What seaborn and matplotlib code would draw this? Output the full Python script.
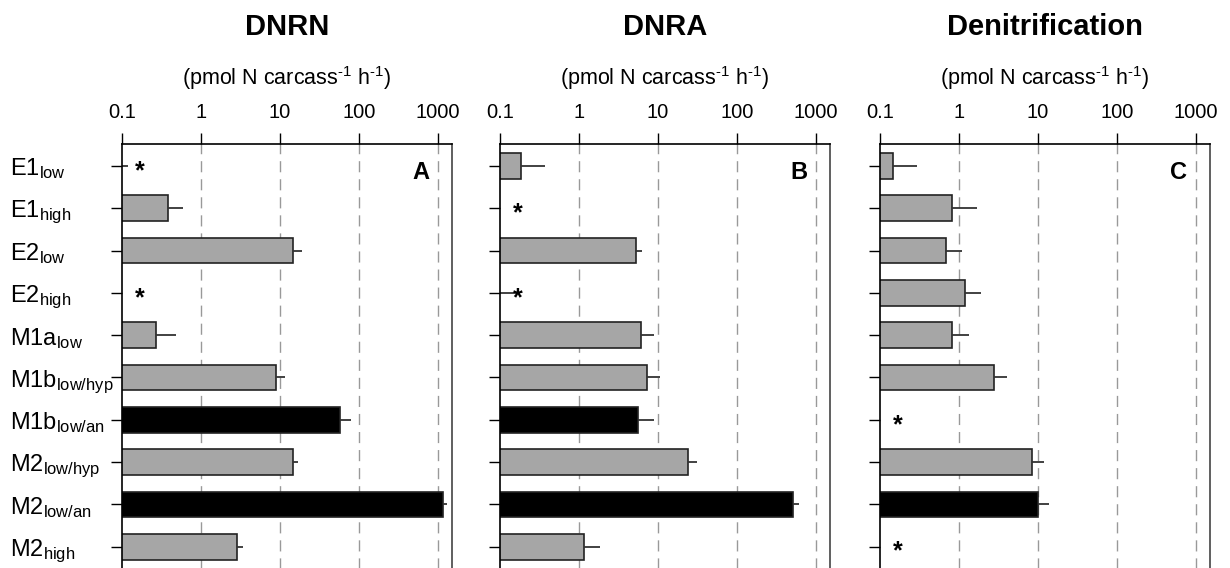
import numpy as np
import pandas as pd
import matplotlib
matplotlib.use("Agg")
import matplotlib.pyplot as plt
import seaborn as sns

# row labels (top to bottom)
sites = ["E1_low", "E1_high", "E2_low", "E2_high", "M1a_low", "M1b_low/hyp",
         "M1b_low/an", "M2_low/hyp", "M2_low/an", "M2_high"]
site_labels = ["E1$_{\\mathrm{low}}$", "E1$_{\\mathrm{high}}$", "E2$_{\\mathrm{low}}$",
               "E2$_{\\mathrm{high}}$", "M1a$_{\\mathrm{low}}$", "M1b$_{\\mathrm{low/hyp}}$",
               "M1b$_{\\mathrm{low/an}}$", "M2$_{\\mathrm{low/hyp}}$", "M2$_{\\mathrm{low/an}}$",
               "M2$_{\\mathrm{high}}$"]
anoxic = [False, False, False, False, False, False, True, False, True, False]

# rates (pmol N carcass-1 h-1), 0 = not detected (*)
dnrn = [0, 0.385, 14.6, 0, 0.266, 8.98, 57.7, 14.7, 1153, 2.89]
dnrn_err = [0.12, 0.20, 4.3, 0, 0.21, 2.7, 21.7, 2.3, 137, 0.55]
dnra = [0.182, 0, 5.26, 0, 6.03, 7.18, 5.52, 24.1, 515, 1.17]
dnra_err = [0.19, 0, 1.0, 0.18, 2.86, 3.3, 3.37, 7.2, 99, 0.66]
denit = [0.147, 0.822, 0.684, 1.2, 0.822, 2.77, 0, 8.4, 10.1, 0]
denit_err = [0.15, 0.85, 0.40, 0.71, 0.53, 1.28, 0, 3.5, 3.5, 0]

titles = ["DNRN", "DNRA", "Denitrification"]
letters = ["A", "B", "C"]
xticks = [0.1, 1, 10, 100, 1000]
xtick_labels = ["0.1", "1", "10", "100", "1000"]

sns.set_style("white")
plt.rcParams["font.family"] = ["Liberation Sans", "DejaVu Sans"]
plt.rcParams["mathtext.fontset"] = "custom"
plt.rcParams["mathtext.rm"] = "Liberation Sans"
plt.rcParams["mathtext.it"] = "Liberation Sans:italic"
plt.rcParams["mathtext.bf"] = "Liberation Sans:bold"
plt.rcParams["text.color"] = "black"
plt.rcParams["xtick.color"] = "black"
plt.rcParams["ytick.color"] = "black"

fig = plt.figure(figsize=(12.3, 5.68), dpi=100)
lefts = [122 / 1230, 500 / 1230, 880 / 1230]
pal = {s: ("black" if a else "#a6a6a6") for s, a in zip(sites, anoxic)}

for i, (vals, errs) in enumerate([(dnrn, dnrn_err), (dnra, dnra_err), (denit, denit_err)]):
    ax = fig.add_axes([lefts[i], -2 / 568, 330 / 1230, 425.7 / 568])
    df = pd.DataFrame({"site": sites, "rate": vals})
    sns.barplot(data=df, x="rate", y="site", hue="site", order=sites, palette=pal,
                orient="h", width=0.61, edgecolor="#222222", linewidth=1.2,
                legend=False, ax=ax, errorbar=None)
    ax.set_xscale("log")
    pos = np.arange(len(sites))
    v = np.array(vals, dtype=float)
    e = np.array(errs, dtype=float)
    has = e > 0
    ax.errorbar(v[has], pos[has], xerr=[np.zeros(has.sum()), e[has]], fmt="none",
                ecolor="#333333", elinewidth=1.3, capsize=0, zorder=1)
    for k in np.where(v == 0)[0]:
        ax.text(0.17, k + 0.12, "*", ha="center", va="center", fontsize=18, fontweight="bold")

    ax.set_xlim(0.1, 1500)
    ax.set_ylim(9.55, -0.51)
    ax.xaxis.set_ticks_position("top")
    ax.xaxis.set_label_position("top")
    ax.set_xticks(xticks)
    ax.set_xticklabels(xtick_labels, fontsize=14.5)
    ax.xaxis.set_minor_locator(matplotlib.ticker.NullLocator())
    ax.tick_params(axis="x", direction="out", length=8, width=1, pad=8, top=True, bottom=False)
    ax.tick_params(axis="y", direction="out", length=8, width=1, left=True)
    ax.set_yticks(pos)
    if i == 0:
        ax.set_yticklabels(site_labels, fontsize=17, ha="left")
        ax.tick_params(axis="y", pad=73)
    else:
        ax.set_yticklabels([])
    ax.set_xlabel("")
    ax.set_ylabel("")
    for x in xticks[1:]:
        ax.axvline(x, color="#999999", lw=1, ls=(0, (8, 5)), zorder=0)
    for s in ["left", "top", "right"]:
        ax.spines[s].set_visible(True)
        ax.spines[s].set_color("black")
        ax.spines[s].set_linewidth(1.2)
    ax.spines["right"].set_color("#444444")
    ax.spines["bottom"].set_visible(False)

    ax.text(0.5, 1.276, titles[i], transform=ax.transAxes, ha="center", va="center",
            fontsize=21, fontweight="bold")
    ax.text(0.5, 1.155, "(pmol N carcass$^{\\text{-1}}$ h$^{\\text{-1}}$)", transform=ax.transAxes,
            ha="center", va="center", fontsize=15.5)
    ax.text(0.905, 0.15, letters[i], transform=ax.get_yaxis_transform(), ha="center",
            va="center", fontsize=17, fontweight="bold")

fig.savefig("out.png", dpi=100)
